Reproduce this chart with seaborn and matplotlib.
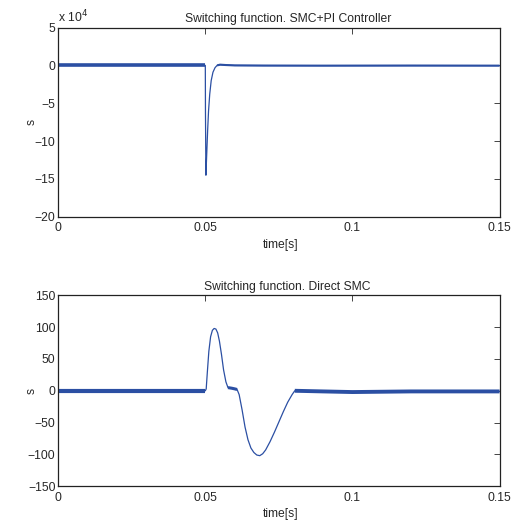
import numpy as np
import matplotlib
matplotlib.use("Agg")
import matplotlib.pyplot as plt
import matplotlib.ticker as mticker
import seaborn as sns

# top: SMC + PI controller (values in real units, shown as x 10^4)
t_pi = [0.0, 0.0500, 0.05005, 0.0502, 0.0505, 0.0508, 0.0511, 0.0515, 0.0520,
        0.0526, 0.0533, 0.0540, 0.0550, 0.0570, 0.0600, 0.0700, 0.0900, 0.1200, 0.1500]
s_pi = [0.0, 0.0, -60000, -145000, -115000, -85000, -60000, -38000, -20000,
        -9000, -3000, 0.0, 1000, 500, 0.0, -200, -300, -200, -300]

# bottom: direct SMC
t_smc = [0.0, 0.0500, 0.0503, 0.0507, 0.0512, 0.0518, 0.0524, 0.0530, 0.0536,
         0.0542, 0.0548, 0.0555, 0.0562, 0.0570, 0.0577, 0.0590, 0.0600, 0.0608,
         0.0615, 0.0625, 0.0635, 0.0645, 0.0655, 0.0665, 0.0675, 0.0685, 0.0695,
         0.0705, 0.0720, 0.0735, 0.0750, 0.0765, 0.0780, 0.0795, 0.0804, 0.0900,
         0.1000, 0.1200, 0.1500]
s_smc = [0.0, 0.0, 3, 30, 62, 85, 95, 98, 97,
         91, 78, 57, 33, 14, 5, 4, 3, 2,
         -6, -30, -57, -77, -90, -97, -101, -102, -99,
         -93, -80, -65, -49, -33, -18, -6, 0, -1,
         -2, -1, -1]

# spans where the signal chatters around its mean
chatter_pi = [(0.0, 0.0500, 2.6), (0.0540, 0.1500, 1.5)]
chatter_smc = [(0.0, 0.0500, 3.0), (0.0577, 0.0608, 2.2), (0.0804, 0.1500, 2.8)]

sns.set_style("white")
plt.rcParams["font.family"] = ["Liberation Sans", "DejaVu Sans"]
plt.rcParams["font.size"] = 8.7

color = "#2b4fa3"
fig = plt.figure(figsize=(5.15, 5.2), dpi=100)
ax1 = fig.add_axes([0.113, 0.583, 0.857, 0.364])
ax2 = fig.add_axes([0.113, 0.065, 0.857, 0.367])


def draw(ax, t, s, chatter):
    sns.lineplot(x=t, y=s, ax=ax, color=color, lw=0.9, estimator=None, sort=False)
    for a, b, w in chatter:
        tt = [x for x in t if a <= x <= b]
        ss = [y for x, y in zip(t, s) if a <= x <= b]
        ax.plot(tt, ss, color=color, lw=w, solid_capstyle="butt")
    ax.set_xlim(0, 0.15)
    ax.set_xticks([0, 0.05, 0.1, 0.15])
    ax.xaxis.set_major_formatter(mticker.FuncFormatter(lambda v, p: f"{v:g}"))
    ax.set_xlabel("time[s]", labelpad=3, x=0.505)
    ax.set_ylabel("s")
    ax.yaxis.set_label_coords(-0.047, 0.5)
    ax.tick_params(direction="in", top=True, right=True, length=4, width=0.6,
                   labelsize=8.7)
    ax.tick_params(axis="x", pad=4)
    ax.tick_params(axis="y", pad=2)
    for sp in ax.spines.values():
        sp.set_color("#222222")
        sp.set_linewidth(0.9)


draw(ax1, t_pi, s_pi, chatter_pi)
ax1.set_ylim(-200000, 50000)
ax1.set_yticks(np.arange(-200000, 50001, 50000))
ax1.yaxis.set_major_formatter(mticker.FuncFormatter(lambda v, p: f"{v/1e4:g}".replace("-", "\u2212")))
ax1.text(0.0, 1.012, "x 10$^4$", transform=ax1.transAxes, fontsize=8.7, va="bottom")
ax1.set_title("Switching function. SMC+PI Controller", fontsize=8.7, pad=4, x=0.52)

draw(ax2, t_smc, s_smc, chatter_smc)
ax2.set_ylim(-150, 150)
ax2.set_yticks(np.arange(-150, 151, 50))
ax2.yaxis.set_major_formatter(mticker.FuncFormatter(lambda v, p: f"{v:g}".replace("-", "\u2212")))
ax2.set_title("Switching function. Direct SMC", fontsize=8.7, pad=4, x=0.52)

fig.savefig("out.png", dpi=100)
